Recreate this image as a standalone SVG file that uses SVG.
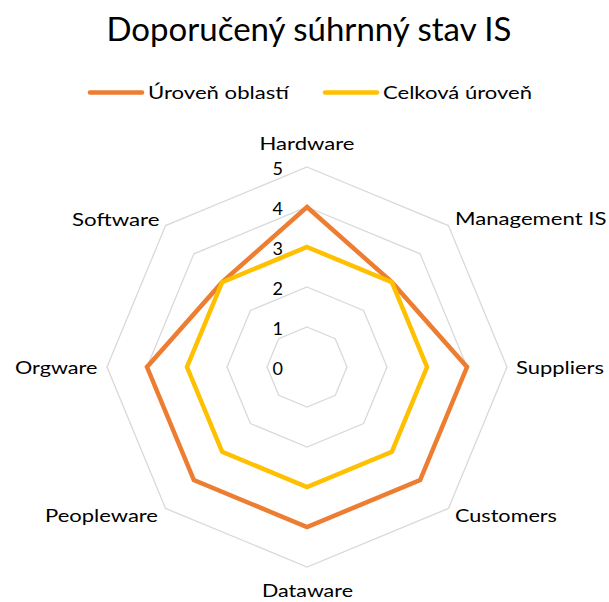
<svg xmlns="http://www.w3.org/2000/svg" width="609" height="602" viewBox="0 0 609 602">
  <style>
    text { font-family: Lato, "Open Sans", "Liberation Sans", sans-serif; fill: #000; }
    .title { font-size: 32px; }
    .lbl { font-size: 18px; }
    .grid { fill: none; stroke: #d9d9d9; stroke-width: 1.3; }
    .series { fill: none; stroke-width: 4.5; stroke-linejoin: miter; stroke-linecap: round; }
    .s1 { stroke: #ED7D31; }
    .s2 { stroke: #FFC000; }
  </style>
  <rect width="609" height="602" fill="#fff"/>

  <text class="title" x="106.5" y="41" textLength="405" lengthAdjust="spacingAndGlyphs">Doporučený súhrnný stav IS</text>

  <!-- legend -->
  <g id="legend">
    <line class="series s1" x1="90" y1="92.5" x2="142" y2="92.5"/>
    <text class="lbl" x="148" y="99" textLength="141" lengthAdjust="spacingAndGlyphs">Úroveň oblastí</text>
    <line class="series s2" x1="325" y1="92.5" x2="377" y2="92.5"/>
    <text class="lbl" x="383" y="99" textLength="149" lengthAdjust="spacingAndGlyphs">Celková úroveň</text>
  </g>

  <!-- octagonal gridlines, levels 1..5 around centre (307,367), 40px per step -->
  <g id="grid">
    <polygon class="grid" points="307,327 335.28,338.72 347,367 335.28,395.28 307,407 278.72,395.28 267,367 278.72,338.72"/>
    <polygon class="grid" points="307,287 363.57,310.43 387,367 363.57,423.57 307,447 250.43,423.57 227,367 250.43,310.43"/>
    <polygon class="grid" points="307,247 391.85,282.15 427,367 391.85,451.85 307,487 222.15,451.85 187,367 222.15,282.15"/>
    <polygon class="grid" points="307,207 420.14,253.86 467,367 420.14,480.14 307,527 193.86,480.14 147,367 193.86,253.86"/>
    <polygon class="grid" points="307,167 448.42,225.58 507,367 448.42,508.42 307,567 165.58,508.42 107,367 165.58,225.58"/>
  </g>

  <!-- value axis labels -->
  <g id="scale" class="lbl" text-anchor="end">
    <text x="283" y="375">0</text>
    <text x="283" y="335">1</text>
    <text x="283" y="295">2</text>
    <text x="283" y="255">3</text>
    <text x="283" y="215">4</text>
    <text x="283" y="175">5</text>
  </g>

  <!-- data series -->
  <g id="connectors">
    <polygon id="uroven-oblasti" class="series s1" points="307,207 391.85,282.15 467,367 420.14,480.14 307,527 193.86,480.14 147,367 222.15,282.15"/>
    <polygon id="celkova-uroven" class="series s2" points="307,247 391.85,282.15 427,367 391.85,451.85 307,487 222.15,451.85 187,367 222.15,282.15"/>
  </g>

  <!-- category labels -->
  <g id="hardware"><text class="lbl" x="259.5" y="150" textLength="95" lengthAdjust="spacingAndGlyphs">Hardware</text></g>
  <g id="management-is"><text class="lbl" x="455" y="225" textLength="151.5" lengthAdjust="spacingAndGlyphs">Management IS</text></g>
  <g id="suppliers"><text class="lbl" x="516" y="374" textLength="88" lengthAdjust="spacingAndGlyphs">Suppliers</text></g>
  <g id="customers"><text class="lbl" x="455" y="522" textLength="102" lengthAdjust="spacingAndGlyphs">Customers</text></g>
  <g id="dataware"><text class="lbl" x="262" y="597" textLength="91" lengthAdjust="spacingAndGlyphs">Dataware</text></g>
  <g id="peopleware"><text class="lbl" x="45" y="522" textLength="113" lengthAdjust="spacingAndGlyphs">Peopleware</text></g>
  <g id="orgware"><text class="lbl" x="15" y="374" textLength="82.5" lengthAdjust="spacingAndGlyphs">Orgware</text></g>
  <g id="software"><text class="lbl" x="72" y="226" textLength="87.5" lengthAdjust="spacingAndGlyphs">Software</text></g>
</svg>
